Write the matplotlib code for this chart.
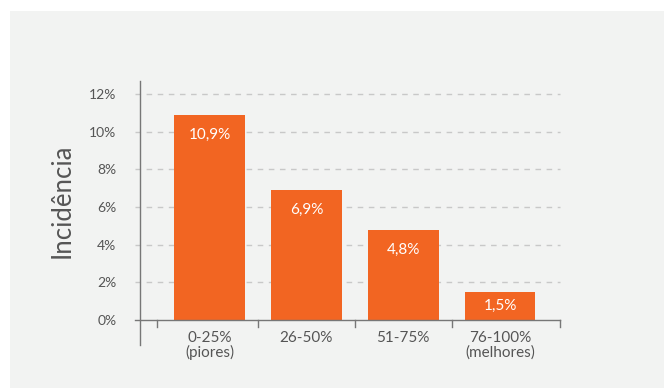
import matplotlib.pyplot as plt
from matplotlib.patches import Rectangle

categories = ["0-25%", "26-50%", "51-75%", "76-100%"]
subLabels = ["(piores)", "", "", "(melhores)"]
incidence = [10.9, 6.9, 4.8, 1.5]
valueLabels = ["10,9%", "6,9%", "4,8%", "1,5%"]
yTicks = [0, 2, 4, 6, 8, 10, 12]

orange = "#f26522"
textGray = "#555555"
gridGray = "#c8c8c8"
axisGray = "#777777"

plt.rcParams['font.family'] = ['Lato', 'DejaVu Sans']

fig = plt.figure(figsize=(6.64, 3.88), dpi=100)
fig.patch.set_facecolor("white")
fig.patches.append(Rectangle((10 / 664, 0), 654 / 664, 377 / 388, transform=fig.transFigure,
                             facecolor="#f2f3f2", edgecolor="none", zorder=-10))

ax = fig.add_axes([140 / 664, 1 - 320 / 388, 420 / 664, 239 / 388])
ax.set_facecolor("none")

x = list(range(len(categories)))
ax.bar(x, incidence, width=0.73, color=orange, zorder=3)

# value labels sit ~20px under the bar top, or mid-bar when the bar is short
for xi, v, lab in zip(x, incidence, valueLabels):
    ax.text(xi, max(v - 1.05, v / 2), lab, ha="center", va="center",
            color="white", fontsize=11, zorder=4)

ax.set_xlim(-0.72, 3.62)
ax.set_ylim(0, 12.7)

ax.set_yticks(yTicks)
ax.set_yticklabels([str(t) + "%" for t in yTicks], color=textGray, fontsize=10)
ax.tick_params(axis="y", length=0, pad=17)
ax.set_xticks([])

for t in yTicks[1:]:
    ax.plot([-0.012, 1], [t / 12.7, t / 12.7], transform=ax.transAxes, color=gridGray,
            linestyle=(0, (4, 4)), linewidth=1, clip_on=False, zorder=1)

for s in ["top", "right", "bottom", "left"]:
    ax.spines[s].set_visible(False)

# axis lines drawn by hand so they can overhang like the original
ax.plot([-0.012, 1], [0, 0], transform=ax.transAxes, color=axisGray, linewidth=1,
        clip_on=False, zorder=5)
ax.plot([0, 0], [-0.105, 1], transform=ax.transAxes, color=axisGray, linewidth=1,
        clip_on=False, zorder=5)
for b in [-0.54, 0.5, 1.5, 2.5, 3.62]:
    ax.plot([b, b], [0, -0.35], color=axisGray, linewidth=1, clip_on=False, zorder=5)

for xi, cat, sub in zip(x, categories, subLabels):
    ax.text(xi, -0.95, cat, ha="center", va="center", color=textGray, fontsize=11)
    if sub:
        ax.text(xi, -1.75, sub, ha="center", va="center", color=textGray, fontsize=11)

ax.set_ylabel("Incidência", fontsize=18.5, color=textGray, labelpad=10)

fig.savefig("out.png", dpi=100)
